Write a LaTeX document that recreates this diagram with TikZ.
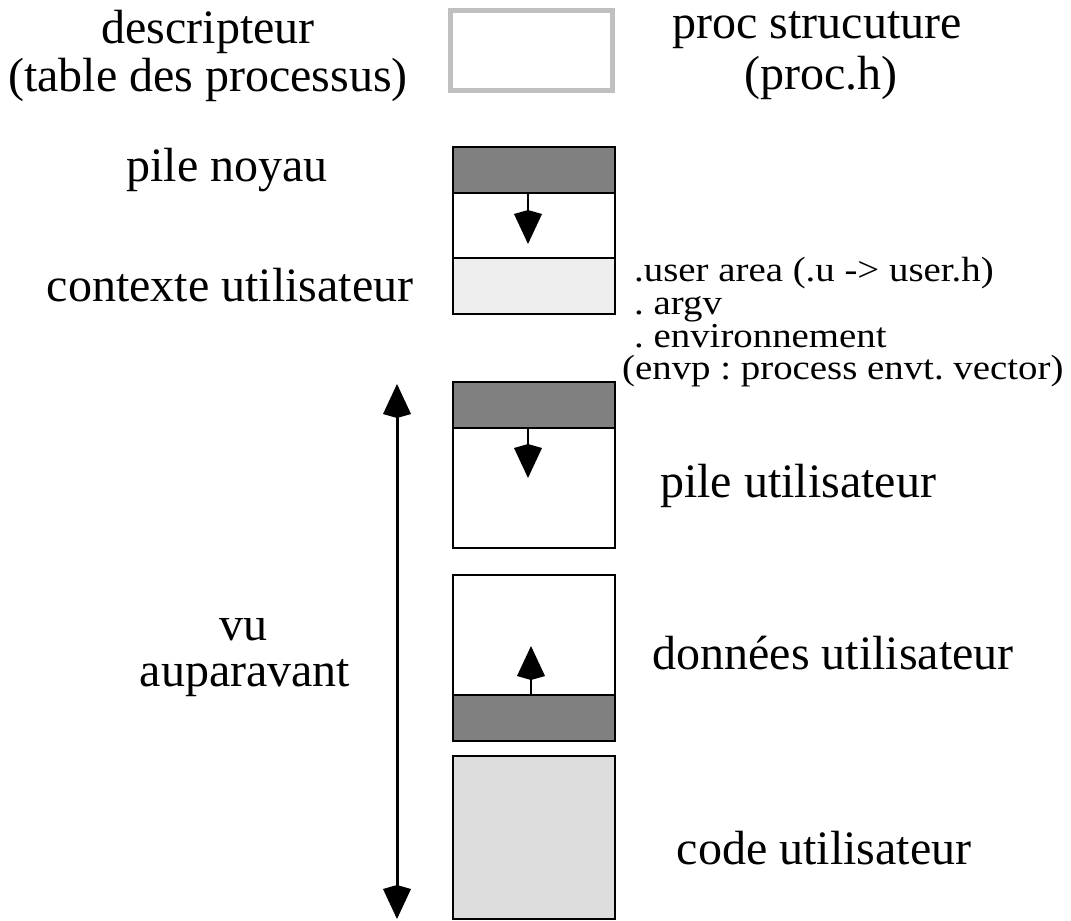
\documentclass[tikz,border=0pt]{standalone}
\usepackage{fontspec}
\setmainfont{Liberation Serif}
\usetikzlibrary{arrows.meta}
\definecolor{band}{HTML}{808080}
\definecolor{ctx}{HTML}{EEEEEE}
\definecolor{codefill}{HTML}{DDDDDD}
\definecolor{descborder}{HTML}{C0C0C0}
\newcommand{\wideline}[1]{\scalebox{1.11}[1]{#1}}
\begin{document}
\begin{tikzpicture}[x=1pt,y=-1pt,
  big/.style={font=\fontsize{48}{48}\selectfont\frenchspacing, inner sep=0pt, anchor=base},
  small/.style={font=\fontsize{35}{35}\selectfont\frenchspacing, inner sep=0pt, anchor=base west},
  seg/.style={draw=black, line width=2.5pt},
  inarrow/.style={-{Kite[length=34pt,width=28pt,inset=4pt]}, line width=2.5pt},
  bothway/.style={{Kite[length=34pt,width=28pt,inset=4pt]}-{Kite[length=34pt,width=28pt,inset=4pt]}, line width=3pt}]
\useasboundingbox (0,0) rectangle (1071,921);
\fill[white] (0,0) rectangle (1071,921);

% descriptor box
\draw[descborder, line width=5pt] (450.5,10.5) rectangle (612.5,90.5);

% kernel stack + user context
\fill[band] (453,147) rectangle (615,193);
\fill[white] (453,193) rectangle (615,258);
\fill[ctx] (453,258) rectangle (615,314);
\draw[seg] (453,147) rectangle (615,314);
\draw[seg] (453,193) -- (615,193);
\draw[seg] (453,258) -- (615,258);
\coordinate (k1) at (528,193);
\coordinate (k2) at (528,244);
\draw[inarrow] (k1) -- (k2);

% user stack
\fill[band] (453,382) rectangle (615,428);
\fill[white] (453,428) rectangle (615,548);
\draw[seg] (453,382) rectangle (615,548);
\draw[seg] (453,428) -- (615,428);
\coordinate (u1) at (528,428);
\coordinate (u2) at (528,478);
\draw[inarrow] (u1) -- (u2);

% user data
\fill[white] (453,575) rectangle (615,695);
\fill[band] (453,695) rectangle (615,741);
\draw[seg] (453,575) rectangle (615,741);
\draw[seg] (453,695) -- (615,695);
\coordinate (d1) at (531,695);
\coordinate (d2) at (531,646);
\draw[inarrow] (d1) -- (d2);

% user code
\fill[codefill] (453,756) rectangle (615,919);
\draw[seg] (453,756) rectangle (615,919);

% seen before arrow
\coordinate (v1) at (397,384);
\coordinate (v2) at (397,919);
\draw[bothway] (v1) -- (v2);

% labels
\node[big] (desc1) at (208,43) {descripteur};
\node[big] (desc2) at (208,91) {(table des processus)};
\node[big] (proc1) at (817,38) {proc strucuture};
\node[big] (proc2) at (821,89) {(proc.h)};
\node[big] (pilen) at (227,181) {pile noyau};
\node[big] (ctxt) at (230,301) {contexte utilisateur};
\node[big] (pileu) at (798,497) {pile utilisateur};
\node[big] (donn) at (833,669) {données utilisateur};
\node[big] (code) at (824,864) {code utilisateur};
\node[big] (vu) at (243,640) {vu};
\node[big] (aupa) at (245,686) {auparavant};

\node[small] (s1) at (634,281) {\wideline{.user area (.u -> user.h)}};
\node[small] (s2) at (634,314) {\wideline{. argv}};
\node[small] (s3) at (634,347) {\wideline{. environnement}};
\node[small] (s4) at (622,379) {\wideline{(envp : process envt. vector)}};
\end{tikzpicture}
\end{document}
